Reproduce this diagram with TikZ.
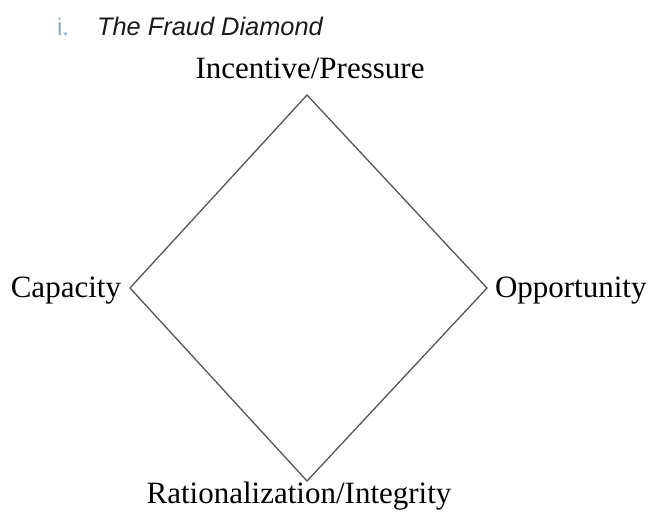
\documentclass[tikz,border=0pt]{standalone}
\usepackage{fontspec}
\setmainfont{Liberation Serif}
\newfontfamily\titlefont{Liberation Sans}
\definecolor{edgegray}{HTML}{555555}
\definecolor{numcol}{HTML}{8FA8B8}
\definecolor{titlecol}{HTML}{1A1A1A}
\begin{document}
\begin{tikzpicture}[x=1pt,y=-1pt,
  lbl/.style={inner sep=0pt,outer sep=0pt,font=\fontsize{31}{36}\selectfont,text=black},
  ttl/.style={inner sep=0pt,outer sep=0pt,font=\titlefont\itshape\fontsize{25.4}{30}\selectfont,text=titlecol},
  num/.style={inner sep=0pt,outer sep=0pt,font=\titlefont\fontsize{24}{30}\selectfont,text=numcol},
  side/.style={draw=edgegray,line width=1.3pt,line join=miter}]
\useasboundingbox (0,0) rectangle (652,511);
\node[num,anchor=base west] (n) at (57,36) {i.};
\node[ttl,anchor=base west] (t) at (97,36) {The Fraud Diamond};
\coordinate (T) at (307,95);
\coordinate (L) at (130,288);
\coordinate (R) at (487,288);
\coordinate (B) at (307,481);
\draw[side] (T) -- (R) -- (B) -- (L) -- cycle;
\node[lbl,anchor=base] (top) at (310,78) {Incentive/Pressure};
\node[lbl,anchor=base east] (cap) at (121,297) {Capacity};
\node[lbl,anchor=base west] (opp) at (495,297) {Opportunity};
\node[lbl,anchor=base] (bot) at (299,503.5) {Rationalization/Integrity};
\end{tikzpicture}
\end{document}
